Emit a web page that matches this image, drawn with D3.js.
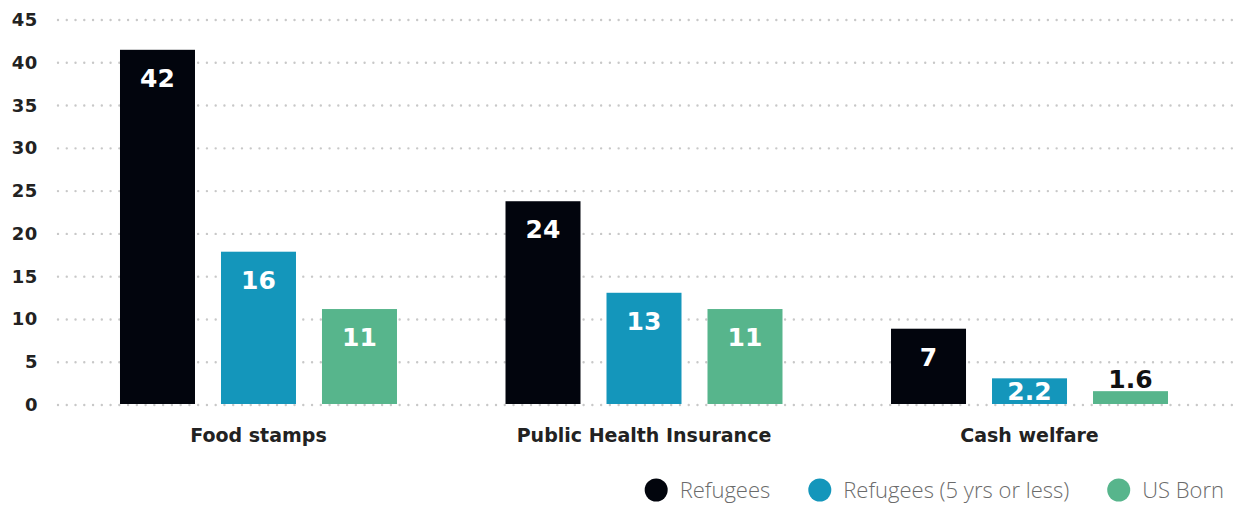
<!DOCTYPE html>
<html>
<head>
<meta charset="utf-8">
<script src="https://cdn.jsdelivr.net/npm/d3@7"></script>
<style>
  body { margin: 0; background: #fff; }
  #chart { width: 1240px; height: 506px; }
  .yAxis text { font-family: "DejaVu Sans", sans-serif; font-weight: bold; font-size: 18px; letter-spacing: 0.6px; fill: #222; }
  .catLabel { font-family: "DejaVu Sans", sans-serif; font-weight: bold; font-size: 19px; fill: #222; }
  .barLabel { font-family: "DejaVu Sans", sans-serif; font-weight: bold; font-size: 25px; }
  .legendText { font-family: "Open Sans", sans-serif; font-weight: 300; font-size: 22px; fill: #6b6b6b; }
</style>
</head>
<body>
<div id="chart"></div>
<script>
// data
var categories = ["Food stamps", "Public Health Insurance", "Cash welfare"];
var seriesNames = ["Refugees", "Refugees (5 yrs or less)", "US Born"];
var refugees = [41.4, 23.7, 8.8];
var refugeesRecent = [17.8, 13.0, 3.0];
var usBorn = [11.1, 11.1, 1.5];
var refugeesLabels = ["42", "24", "7"];
var refugeesRecentLabels = ["16", "13", "2.2"];
var usBornLabels = ["11", "11", "1.6"];
var yTicks = [0, 5, 10, 15, 20, 25, 30, 35, 40, 45];
var colors = ["#02050d", "#1496bb", "#57b58c"];

var width = 1240;
var height = 506;
var margin = {top: 19, left: 58, right: 8, bottom: 102};

var svg = d3.select("#chart")
    .append("svg")
    .attr("width", width)
    .attr("height", height);

var seriesValues = [refugees, refugeesRecent, usBorn];
var seriesLabels = [refugeesLabels, refugeesRecentLabels, usBornLabels];

var data = categories.map(function(c, i) {
    return {
        category: c,
        bars: seriesNames.map(function(s, j) {
            return {series: s, value: seriesValues[j][i], label: seriesLabels[j][i], color: colors[j]};
        })
    };
});

var yScale = d3.scaleLinear()
    .domain([0, 45])
    .range([height - margin.bottom, margin.top]);

var x0 = d3.scaleBand()
    .domain(categories)
    .range([65.75, 1222.25])
    .paddingInner(0.2815)
    .paddingOuter(0.1407);

var x1 = d3.scaleBand()
    .domain(seriesNames)
    .range([0, x0.bandwidth()])
    .paddingInner(26 / 101)
    .paddingOuter(0);

// dotted gridlines + tick labels
var yAxis = svg.append("g")
    .attr("class", "yAxis")
    .attr("transform", `translate(${margin.left},0)`)
    .call(d3.axisLeft(yScale)
        .tickValues(yTicks)
        .tickSize(-(width - margin.left - margin.right))
        .tickPadding(20));

yAxis.select(".domain").remove();
yAxis.selectAll(".tick line")
    .attr("stroke", "#c8c8c8")
    .attr("stroke-width", 2.4)
    .attr("stroke-linecap", "round")
    .attr("stroke-dasharray", "0.01 8.75")
    .attr("transform", "translate(0,0.5)");
yAxis.selectAll(".tick text").attr("dy", "0.36em");

var groups = svg.selectAll(".group")
    .data(data)
    .enter()
    .append("g")
        .attr("class", "group")
        .attr("transform", function(d) { return `translate(${x0(d.category)},0)`; });

groups.selectAll("rect")
    .data(function(d) { return d.bars; })
    .enter()
    .append("rect")
        .attr("x", function(d) { return x1(d.series); })
        .attr("y", function(d) { return yScale(d.value); })
        .attr("width", x1.bandwidth())
        .attr("height", function(d) { return yScale(0) - yScale(d.value); })
        .attr("fill", function(d) { return d.color; });

groups.selectAll(".barLabel")
    .data(function(d) { return d.bars; })
    .enter()
    .append("text")
        .attr("class", "barLabel")
        .attr("text-anchor", "middle")
        .attr("x", function(d) { return x1(d.series) + x1.bandwidth() / 2; })
        .attr("y", function(d) {
            var h = yScale(0) - yScale(d.value);
            if (h >= 40) return yScale(d.value) + 37;
            if (h >= 20) return yScale(0) - 4;
            return yScale(d.value) - 3;
        })
        .attr("fill", function(d) {
            return (yScale(0) - yScale(d.value)) >= 20 ? "#fff" : "#111";
        })
        .text(function(d) { return d.label; });

svg.selectAll(".catLabel")
    .data(categories)
    .enter()
    .append("text")
        .attr("class", "catLabel")
        .attr("text-anchor", "middle")
        .attr("x", function(d) { return x0(d) + x0.bandwidth() / 2; })
        .attr("y", 442)
        .text(function(d) { return d; });

// legend, right aligned
var legend = svg.append("g").attr("class", "legend");
var items = legend.selectAll(".item")
    .data(seriesNames)
    .enter()
    .append("g")
        .attr("class", "item");

items.append("circle")
    .attr("cx", 11.5)
    .attr("cy", 490)
    .attr("r", 11.5)
    .attr("fill", function(d, i) { return colors[i]; });

items.append("text")
    .attr("class", "legendText")
    .attr("x", 35)
    .attr("y", 490)
    .attr("dy", "0.35em")
    .text(function(d) { return d; });

var xPos = 0;
var offsets = [];
items.each(function() {
    offsets.push(xPos);
    var w = this.getBBox().width;
    xPos += w + 38;
});
var total = xPos - 38;
items.attr("transform", function(d, i) { return `translate(${1224 - total + offsets[i]},0)`; });
</script>
</body>
</html>
